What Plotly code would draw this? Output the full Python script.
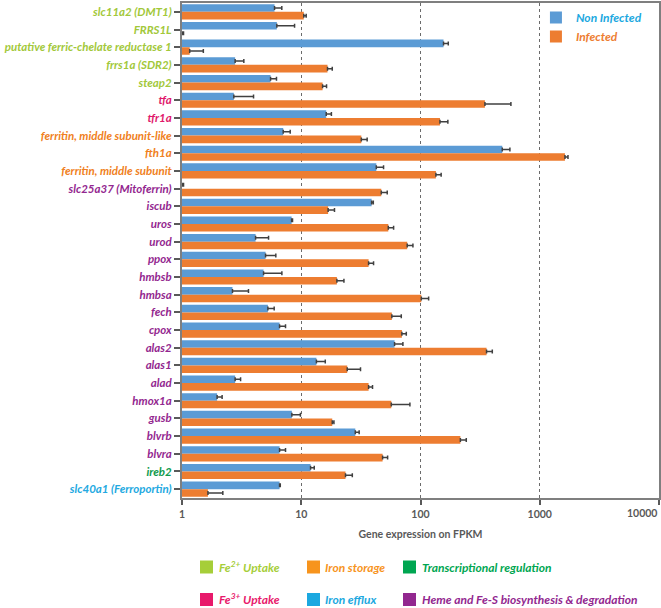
import plotly.graph_objects as go

genes = ["slc11a2 (DMT1)", "FRRS1L", "putative ferric-chelate reductase 1", "frrs1a (SDR2)",
         "steap2", "tfa", "tfr1a", "ferritin, middle subunit-like", "fth1a",
         "ferritin, middle subunit", "slc25a37 (Mitoferrin)", "iscub", "uros", "urod", "ppox",
         "hmbsb", "hmbsa", "fech", "cpox", "alas2", "alas1", "alad", "hmox1a", "gusb",
         "blvrb", "blvra", "ireb2", "slc40a1 (Ferroportin)"]

gene_group = ["fe2", "fe2", "fe2", "fe2", "fe2", "fe3", "fe3", "storage", "storage",
              "storage", "heme", "heme", "heme", "heme", "heme", "heme", "heme", "heme",
              "heme", "heme", "heme", "heme", "heme", "heme", "heme", "heme", "trans", "efflux"]

non_infected = [5.97, 6.24, 156, 2.79, 5.53, 2.72, 16.2, 7.06, 485, 42.6, 1.0, 38.9, 8.3,
                4.14, 5.02, 4.83, 2.65, 5.25, 6.58, 60.6, 13.4, 2.79, 1.97, 8.34, 28.4,
                6.58, 11.97, 6.58]
non_infected_err = [0.9, 2.55, 15, 0.51, 0.67, 1.26, 1.7, 1.02, 77, 6.4, 0.03, 1.3, 0.15,
                    1.18, 1.1, 2.05, 0.96, 0.68, 0.8, 10.6, 2.5, 0.31, 0.2, 1.5, 2.2, 0.8,
                    0.88, 0.09]
infected = [10.5, 1.0, 1.16, 16.6, 15.1, 347, 145.6, 31.9, 1627, 134.6, 46.9, 16.8, 53.7,
            77.4, 36.7, 19.9, 101.6, 57.5, 69.8, 358, 24.3, 36.7, 56.9, 18.2, 216, 48.1,
            23.5, 1.65]
infected_err = [0.5, 0.03, 0.35, 1.6, 1.2, 226, 24, 3.8, 98, 14.4, 5.7, 2.2, 5.8, 9, 3.7,
                2.9, 15.4, 11.5, 6.2, 42, 7.1, 2.9, 24.6, 0.6, 26, 4.9, 3.3, 0.55]

x_tickvals = [1, 10, 100, 1000, 10000]
x_ticktext = ["1", "10", "100", "1000", "10000"]

group_label_color = {"fe2": "#A2C83A", "fe3": "#E0186B", "storage": "#F07F22",
                     "efflux": "#23A9E1", "trans": "#0E9A4C", "heme": "#93278F"}

legend_groups = [("Fe<sup>2+</sup> Uptake", "#A6CE39"), ("Iron storage", "#F7941D"),
                 ("Transcriptional regulation", "#00A651"),
                 ("Fe<sup>3+</sup> Uptake", "#E8196B"), ("Iron efflux", "#1BA8E0"),
                 ("Heme and Fe-S biosynthesis &amp; degradation", "#92278F")]

FONT = "Lato"
err_style = dict(type="data", symmetric=False, color="#404040", thickness=1.5, width=2)
tick_font = dict(family=FONT, size=10.5, weight="bold", color="#595959")

fig = go.Figure()
fig.add_trace(go.Bar(
    y=genes, x=non_infected, orientation="h",
    name="<span style='color:#1BA8E0'>Non Infected</span>",
    marker=dict(color="#5B9BD5", line=dict(width=0)),
    error_x=dict(array=non_infected_err, arrayminus=[0] * len(genes), **err_style),
))
fig.add_trace(go.Bar(
    y=genes, x=infected, orientation="h",
    name="<span style='color:#ED7D31'>Infected</span>",
    marker=dict(color="#ED7D31", line=dict(width=0)),
    error_x=dict(array=infected_err, arrayminus=[0] * len(genes), **err_style),
))

y_ticktext = ["<span style='color:%s'>%s</span>" % (group_label_color[g], n)
              for n, g in zip(genes, gene_group)]
# the last x label sits right-aligned against the plot edge in the reference:
# keep its tick, and draw its text as a right-anchored label at the axis end
x_ticktext_disp = x_ticktext[:-1] + [""]

fig.update_layout(
    width=661, height=608,
    margin=dict(l=182, r=2, t=3, b=110),
    paper_bgcolor="white", plot_bgcolor="white",
    barmode="group", bargap=0.14, bargroupgap=0.0,
    font=dict(family=FONT, color="#595959"),
    legend=dict(x=0.742, y=1.0, xanchor="left", yanchor="top",
                bgcolor="rgba(0,0,0,0)", tracegroupgap=0,
                font=dict(family=FONT, size=12, weight="bold", style="italic"),
                itemwidth=30),
    xaxis=dict(type="log", range=[0, 4], tickvals=x_tickvals, ticktext=x_ticktext_disp,
               showgrid=True, gridcolor="#6b6b6b", gridwidth=1, griddash="dot",
               showline=True, mirror=True, linecolor="#7f7f7f", linewidth=2,
               ticks="outside", ticklen=5, tickwidth=2, tickcolor="#595959",
               tickfont=tick_font,
               title=dict(text="Gene expression on FPKM", standoff=12,
                          font=dict(family=FONT, size=10.5, weight="bold", color="#595959")),
               zeroline=False, automargin=False),
    yaxis=dict(type="category", autorange="reversed", tickvals=genes, ticktext=y_ticktext,
               showline=True, mirror=True, linecolor="#7f7f7f", linewidth=2,
               ticks="outside", ticklen=6, tickwidth=2, tickcolor="#595959",
               tickfont=dict(family=FONT, size=11.5, weight="bold", style="italic"),
               showgrid=False, automargin=False),
)

fig.add_annotation(xref="x", yref="paper", x=4, y=0, yshift=-7,
                   xanchor="right", yanchor="top", showarrow=False,
                   text=x_ticktext[-1], font=tick_font)

# bottom category legend
px_plot_left, px_plot_w, px_plot_bottom, px_plot_h = 182, 477, 498, 495
def px_x(x):
    return (x - px_plot_left) / px_plot_w
def px_y(y):
    return (px_plot_bottom - y) / px_plot_h

col_sq_x = [200, 307, 403]
col_tx_x = [216.5, 323, 420]
row_y = [567, 599.5]
for i, (label, color) in enumerate(legend_groups):
    r, c = divmod(i, 3)
    cy = row_y[r]
    fig.add_shape(type="rect", xref="paper", yref="paper",
                  x0=px_x(col_sq_x[c]), x1=px_x(col_sq_x[c] + 13),
                  y0=px_y(cy - 6.5), y1=px_y(cy + 6.5),
                  fillcolor=color, line=dict(width=0))
    fig.add_annotation(xref="paper", yref="paper", x=px_x(col_tx_x[c]), y=px_y(cy),
                       xanchor="left", yanchor="middle", showarrow=False,
                       text=label,
                       font=dict(family=FONT, size=12, weight="bold", style="italic",
                                 color=color))

fig.write_html("out.html", config={"displayModeBar": False},
               post_script="document.body.style.margin='0';document.body.style.overflow='hidden';")
